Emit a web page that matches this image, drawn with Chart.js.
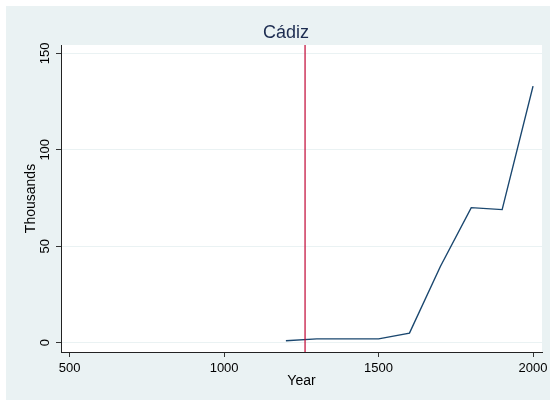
<!DOCTYPE html>
<html>
<head>
<meta charset="utf-8">
<script src="https://cdn.jsdelivr.net/npm/chart.js@4"></script>
<style>
  body { margin: 0; background: #fff; }
</style>
</head>
<body>
<canvas id="cadizChart" width="550" height="400"></canvas>
<script>
// données Cádiz (milliers d'habitants)
const years = [1200, 1300, 1400, 1500, 1600, 1700, 1800, 1900, 2000];
const population = [1, 2, 2, 2, 5, 39.5, 70, 69, 133];
const markYear = 1262;
const xTicks = [500, 1000, 1500, 2000];
const yTicks = [0, 50, 100, 150];
const xRange = [472, 2029];
const yRange = [-4.8, 154.3];

const fontFamily = "'Liberation Sans', Arial, sans-serif";

const bgPlugin = {
    id: 'bg',
    beforeDraw(chart) {
        const ctx = chart.ctx;
        const a = chart.chartArea;
        ctx.save();
        ctx.fillStyle = '#ffffff';
        ctx.fillRect(0, 0, chart.width, chart.height);
        ctx.fillStyle = '#EAF2F3';
        ctx.fillRect(6, 6, chart.width - 6, chart.height - 6);
        ctx.fillStyle = '#ffffff';
        ctx.fillRect(a.left, a.top, a.right - a.left, a.bottom - a.top);
        ctx.restore();
    }
};

// labels verticaux de l'axe y
const yLabelsPlugin = {
    id: 'yLabels',
    afterDraw(chart) {
        const ctx = chart.ctx;
        const y = chart.scales.y;
        ctx.save();
        ctx.fillStyle = '#000';
        ctx.font = '13px ' + fontFamily;
        ctx.textAlign = 'center';
        ctx.textBaseline = 'middle';
        yTicks.forEach(v => {
            ctx.save();
            ctx.translate(45, y.getPixelForValue(v));
            ctx.rotate(-Math.PI / 2);
            ctx.fillText(String(v), 0, 0);
            ctx.restore();
        });
        ctx.restore();
    }
};

const ctx = document.getElementById('cadizChart').getContext('2d');
const myChart = new Chart(ctx, {
    type: 'line',
    data: {
        datasets: [{
            data: [{x: markYear, y: yRange[0]}, {x: markYear, y: yRange[1]}],
            borderColor: '#C10534',
            borderWidth: 1.2,
            pointRadius: 0
        }, {
            data: years.map((yr, i) => ({x: yr, y: population[i]})),
            borderColor: '#1A476F',
            borderWidth: 1.4,
            pointRadius: 0,
            tension: 0
        }]
    },
    options: {
        responsive: false,
        animation: false,
        devicePixelRatio: 1,
        layout: { padding: { left: 22, right: 0, top: 22, bottom: 0 } },
        plugins: {
            legend: { display: false },
            tooltip: { enabled: false },
            title: {
                display: true,
                text: 'Cádiz',
                color: '#1c2c50',
                font: { family: fontFamily, size: 18, weight: 'normal' },
                padding: { top: 0, bottom: 1.4 }
            }
        },
        scales: {
            x: {
                type: 'linear',
                min: xRange[0],
                max: xRange[1],
                afterBuildTicks: s => { s.ticks = xTicks.map(v => ({value: v})); },
                afterFit: s => { s.height = 48; s.paddingLeft = 0; s.paddingRight = 8; },
                grid: { drawOnChartArea: false, drawTicks: true, tickLength: 5, tickColor: '#333' },
                border: { color: '#222', width: 1 },
                ticks: {
                    color: '#000', padding: 4, maxRotation: 0,
                    font: { family: fontFamily, size: 13 },
                    callback: v => String(v)
                },
                title: {
                    display: true,
                    text: 'Year',
                    color: '#000',
                    font: { family: fontFamily, size: 14 },
                    padding: { top: 0, bottom: 10.4 }
                }
            },
            y: {
                type: 'linear',
                min: yRange[0],
                max: yRange[1],
                afterBuildTicks: s => { s.ticks = yTicks.map(v => ({value: v})); },
                afterFit: s => { s.width = 39; },
                grid: { color: '#EAF2F3', lineWidth: 1, drawTicks: true, tickLength: 5, tickColor: '#333' },
                border: { color: '#222', width: 1 },
                ticks: { display: false },
                title: {
                    display: true,
                    text: 'Thousands',
                    color: '#000',
                    font: { family: fontFamily, size: 14 },
                    padding: { top: 1, bottom: 0 }
                }
            }
        }
    },
    plugins: [bgPlugin, yLabelsPlugin]
});
</script>
</body>
</html>
